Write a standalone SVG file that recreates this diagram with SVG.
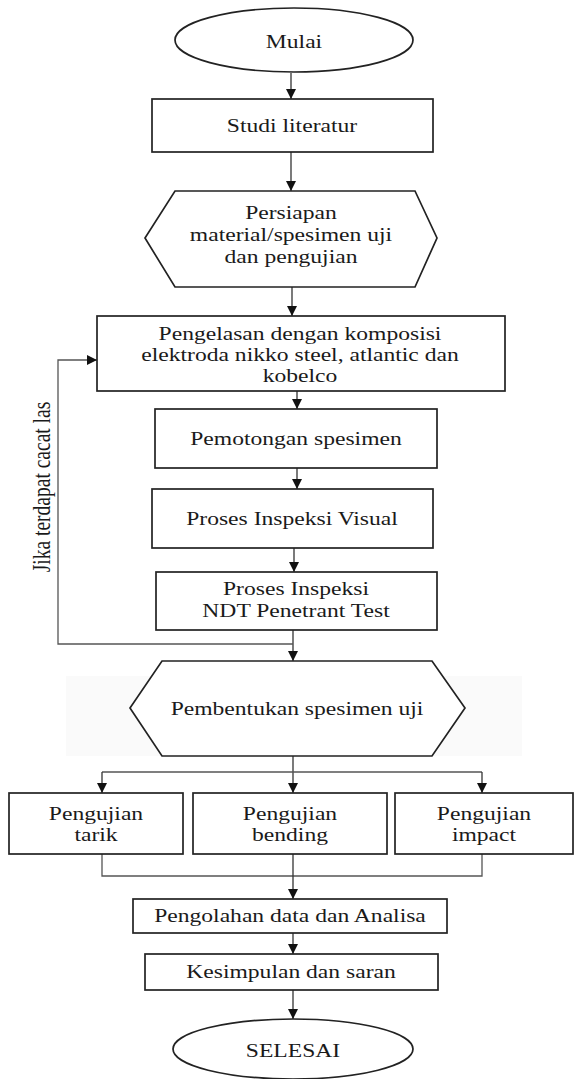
<svg xmlns="http://www.w3.org/2000/svg" width="574" height="1079" viewBox="0 0 574 1079">
<style>
.t{font-family:"Liberation Serif","Times New Roman",serif;font-size:19.5px;text-anchor:middle;fill:#1a1a1a}
.s{fill:#fff;stroke:#222;stroke-width:1.7}
.c{fill:none;stroke:#333;stroke-width:1.3}
.cg{fill:none;stroke:#555;stroke-width:1.3}
</style>
<defs>
<marker id="ah" viewBox="0 0 10 10" refX="10" refY="5" markerWidth="10" markerHeight="10" markerUnits="userSpaceOnUse" orient="auto">
<path d="M0,0 L10,5 L0,10 z" fill="#111"/>
</marker>
</defs>
<rect width="574" height="1079" fill="#fff"/>
<rect x="66" y="676" width="456" height="80" fill="#fafafa"/>
<g id="connectors">
<path class="c" d="M291,73 V99" marker-end="url(#ah)"/>
<path class="c" d="M291,152 V191" marker-end="url(#ah)"/>
<path class="c" d="M292,287 V316" marker-end="url(#ah)"/>
<path class="c" d="M297,391 V409" marker-end="url(#ah)"/>
<path class="c" d="M297,468 V489" marker-end="url(#ah)"/>
<path class="c" d="M294,548 V572" marker-end="url(#ah)"/>
<path class="c" d="M293,630 V661" marker-end="url(#ah)"/>
<path class="cg" d="M293,644 H58 V360 H97" marker-end="url(#ah)"/>
<path class="c" d="M293,756 V793" marker-end="url(#ah)"/>
<path class="cg" d="M102,772 H482"/>
<path class="c" d="M102,772 V793" marker-end="url(#ah)"/>
<path class="c" d="M482,772 V793" marker-end="url(#ah)"/>
<path class="cg" d="M102,854 V876 H482 V854"/>
<path class="c" d="M293,854 V899" marker-end="url(#ah)"/>
<path class="c" d="M293,933 V954" marker-end="url(#ah)"/>
<path class="c" d="M293,990 V1019" marker-end="url(#ah)"/>
<text class="t" transform="translate(50,487) scale(1.3,1) rotate(-90)">Jika terdapat cacat las</text>
</g>
<g id="mulai">
<ellipse class="s" cx="294" cy="40" rx="119" ry="32"/>
<text class="t" transform="translate(294,48) scale(1.21,1)">Mulai</text>
</g>
<g id="studi">
<rect class="s" x="152" y="99" width="281" height="53"/>
<text class="t" transform="translate(292,132) scale(1.21,1)">Studi literatur</text>
</g>
<g id="persiapan">
<polygon class="s" points="175,191 415,191 437,238 415,287 175,287 145,238"/>
<text class="t" transform="translate(291,219) scale(1.21,1)"><tspan x="0" y="0">Persiapan</tspan><tspan x="0" y="22">material/spesimen uji</tspan><tspan x="0" y="44">dan pengujian</tspan></text>
</g>
<g id="pengelasan">
<rect class="s" x="97" y="316" width="408" height="75"/>
<text class="t" transform="translate(300,340) scale(1.21,1)"><tspan x="0" y="0">Pengelasan dengan komposisi</tspan><tspan x="0" y="21">elektroda nikko steel, atlantic dan</tspan><tspan x="0" y="42">kobelco</tspan></text>
</g>
<g id="pemotongan">
<rect class="s" x="155" y="409" width="282" height="59"/>
<text class="t" transform="translate(296,445) scale(1.21,1)">Pemotongan spesimen</text>
</g>
<g id="visual">
<rect class="s" x="152" y="489" width="281" height="59"/>
<text class="t" transform="translate(292,525) scale(1.21,1)">Proses Inspeksi Visual</text>
</g>
<g id="ndt">
<rect class="s" x="156" y="572" width="281" height="58"/>
<text class="t" transform="translate(296,595) scale(1.21,1)"><tspan x="0" y="0">Proses Inspeksi</tspan><tspan x="0" y="22">NDT Penetrant Test</tspan></text>
</g>
<g id="pembentukan">
<polygon class="s" points="162,661 432,661 465,708 432,756 162,756 130,708"/>
<text class="t" transform="translate(297,715) scale(1.21,1)">Pembentukan spesimen uji</text>
</g>
<g id="tarik">
<rect class="s" x="9" y="793" width="174" height="61"/>
<text class="t" transform="translate(96,820) scale(1.21,1)"><tspan x="0" y="0">Pengujian</tspan><tspan x="0" y="21">tarik</tspan></text>
</g>
<g id="bending">
<rect class="s" x="193" y="793" width="194" height="61"/>
<text class="t" transform="translate(290,820) scale(1.21,1)"><tspan x="0" y="0">Pengujian</tspan><tspan x="0" y="21">bending</tspan></text>
</g>
<g id="impact">
<rect class="s" x="395" y="793" width="178" height="61"/>
<text class="t" transform="translate(484,820) scale(1.21,1)"><tspan x="0" y="0">Pengujian</tspan><tspan x="0" y="21">impact</tspan></text>
</g>
<g id="pengolahan">
<rect class="s" x="133" y="899" width="314" height="34"/>
<text class="t" transform="translate(290,922) scale(1.21,1)">Pengolahan data dan Analisa</text>
</g>
<g id="kesimpulan">
<rect class="s" x="145" y="954" width="293" height="36"/>
<text class="t" transform="translate(291,978) scale(1.21,1)">Kesimpulan dan saran</text>
</g>
<g id="selesai">
<ellipse class="s" cx="293" cy="1049" rx="120" ry="30"/>
<text class="t" transform="translate(293,1057) scale(1.21,1)">SELESAI</text>
</g>
</svg>
